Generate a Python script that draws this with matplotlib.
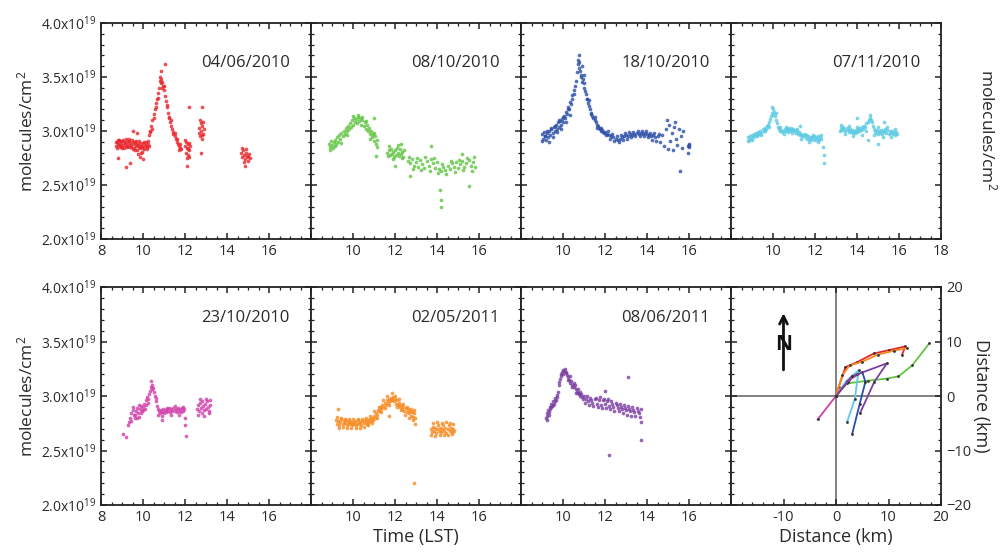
import matplotlib
matplotlib.use('Agg')
import matplotlib.pyplot as plt
from matplotlib.ticker import MultipleLocator

plt.rcParams['font.family'] = ['Open Sans', 'DejaVu Sans']
plt.rcParams['mathtext.default'] = 'regular'

# column density in units of 1e19 molecules/cm2, as (time LST, value)
d_040610 = [
    (8.70, 2.86), (8.75, 2.90), (8.80, 2.88), (8.85, 2.92), (8.90, 2.85), (8.95, 2.89), (9.00, 2.91), (9.05, 2.87),
    (9.10, 2.84), (9.15, 2.90), (9.20, 2.93), (9.25, 2.88), (9.30, 2.86), (9.35, 2.91), (9.40, 2.89), (9.45, 2.85),
    (9.50, 2.83), (9.55, 2.88), (9.60, 2.90), (9.65, 2.86), (9.70, 2.82), (9.75, 2.87), (9.80, 2.91), (9.85, 2.84),
    (9.90, 2.80), (9.95, 2.86), (10.00, 2.89), (10.05, 2.83), (10.10, 2.87), (10.15, 2.90), (10.20, 2.85), (10.25, 2.88),
    (8.72, 2.90), (8.77, 2.84), (8.82, 2.92), (8.87, 2.87), (8.92, 2.91), (8.97, 2.86), (9.02, 2.84), (9.07, 2.92),
    (9.12, 2.89), (9.17, 2.86), (9.22, 2.85), (9.27, 2.91), (9.32, 2.93), (9.37, 2.85), (9.42, 2.87), (9.47, 2.92),
    (9.52, 2.90), (9.57, 2.84), (9.62, 2.82), (9.67, 2.91), (9.72, 2.88), (9.77, 2.79), (9.82, 2.85), (9.87, 2.89),
    (9.92, 2.86), (9.97, 2.81), (10.02, 2.84), (10.07, 2.90), (10.12, 2.86), (10.17, 2.83), (10.22, 2.91), (10.27, 2.86),
    (9.20, 2.67), (9.40, 2.70), (8.80, 2.75), (9.70, 2.98), (10.00, 2.74), (9.50, 3.00), (9.85, 2.76),
    (10.30, 2.96), (10.35, 3.00), (10.40, 3.05), (10.45, 3.10), (10.50, 3.16), (10.55, 3.20), (10.60, 3.26), (10.65, 3.30),
    (10.70, 3.35), (10.75, 3.40), (10.80, 3.46), (10.85, 3.48), (10.90, 3.45), (10.95, 3.42), (11.00, 3.38), (11.05, 3.32),
    (11.10, 3.28), (11.15, 3.22), (11.20, 3.17), (11.25, 3.12), (11.30, 3.08), (11.35, 3.05), (11.40, 3.02), (11.45, 2.99),
    (11.50, 2.95), (11.55, 2.93), (11.60, 2.90), (11.65, 2.88), (11.70, 2.86), (11.75, 2.84), (11.80, 2.83),
    (10.32, 2.99), (10.42, 3.02), (10.52, 3.12), (10.62, 3.22), (10.72, 3.31), (10.82, 3.50), (10.87, 3.44), (10.92, 3.40),
    (11.02, 3.42), (11.12, 3.24), (11.22, 3.13), (11.32, 3.10), (11.42, 2.97), (11.52, 2.98), (11.62, 2.93), (11.72, 2.82),
    (11.78, 2.88), (10.88, 3.56), (11.05, 3.62),
    (12.00, 2.86), (12.03, 2.80), (12.06, 2.90), (12.09, 2.84), (12.12, 2.78), (12.15, 2.88), (12.18, 2.82), (12.21, 2.76),
    (12.24, 2.86), (12.02, 2.92), (12.08, 2.75), (12.14, 2.83), (12.20, 2.89), (12.20, 3.22), (12.10, 2.68),
    (12.65, 2.98), (12.68, 3.03), (12.71, 2.95), (12.74, 3.07), (12.77, 3.00), (12.80, 2.93), (12.83, 3.05), (12.86, 2.97),
    (12.89, 3.02), (12.70, 3.10), (12.79, 2.96), (12.88, 3.08), (12.80, 3.22), (12.75, 2.80),
    (14.65, 2.80), (14.70, 2.76), (14.75, 2.82), (14.80, 2.78), (14.85, 2.74), (14.90, 2.80), (14.95, 2.77), (15.00, 2.72),
    (15.05, 2.79), (15.10, 2.75), (14.72, 2.84), (14.82, 2.71), (14.92, 2.83), (15.02, 2.76), (14.88, 2.68),
]

d_081010 = [
    (8.85, 2.88), (8.90, 2.85), (8.95, 2.91), (9.00, 2.87), (9.05, 2.84), (9.10, 2.90), (9.15, 2.92), (9.20, 2.88),
    (9.25, 2.94), (9.30, 2.90), (9.35, 2.96), (9.40, 2.93), (9.45, 2.98), (9.50, 2.95), (9.55, 3.00), (9.60, 2.97),
    (9.65, 3.03), (9.70, 3.00), (9.75, 3.05), (9.80, 3.02), (9.85, 3.07), (9.90, 3.04), (9.95, 3.10), (10.00, 3.06),
    (10.05, 3.12), (10.10, 3.08), (10.15, 3.11), (10.20, 3.07), (10.25, 3.13), (10.30, 3.09), (10.35, 3.12), (10.40, 3.06),
    (10.45, 3.10), (10.50, 3.05), (10.55, 3.08), (10.60, 3.02), (10.65, 3.06), (10.70, 3.00), (10.75, 3.03), (10.80, 2.97),
    (10.85, 3.00), (10.90, 2.94), (10.95, 2.97), (11.00, 2.91), (11.05, 2.95), (11.10, 2.88), (11.15, 2.92),
    (8.92, 2.82), (9.12, 2.86), (9.42, 2.89), (9.72, 2.96), (10.02, 3.14), (10.22, 3.15), (10.42, 3.13), (10.62, 3.09),
    (10.82, 2.93), (11.02, 2.98), (11.12, 2.85), (11.10, 2.77), (11.00, 3.12),
    (11.60, 2.80), (11.65, 2.77), (11.70, 2.82), (11.75, 2.78), (11.80, 2.83), (11.85, 2.79), (11.90, 2.81), (11.95, 2.76),
    (12.00, 2.82), (12.05, 2.78), (12.10, 2.84), (12.15, 2.80), (12.20, 2.77), (12.25, 2.83), (12.30, 2.79), (12.35, 2.81),
    (12.40, 2.76), (12.45, 2.82), (11.72, 2.86), (11.92, 2.74), (12.12, 2.87), (12.32, 2.75), (12.00, 2.68), (12.30, 2.88),
    (12.60, 2.72), (12.70, 2.70), (12.80, 2.74), (12.90, 2.68), (13.00, 2.71), (13.10, 2.67), (13.20, 2.73), (13.30, 2.69),
    (13.40, 2.66), (13.50, 2.72), (13.60, 2.68), (13.70, 2.74), (13.80, 2.70), (13.90, 2.66), (14.00, 2.71), (14.10, 2.65),
    (14.20, 2.63), (14.30, 2.67), (14.40, 2.64), (14.50, 2.68), (14.60, 2.65), (14.70, 2.70), (14.80, 2.67), (14.90, 2.71),
    (15.00, 2.66), (15.10, 2.69), (15.20, 2.72), (15.30, 2.67), (15.40, 2.70), (15.50, 2.73), (15.60, 2.68), (15.70, 2.71),
    (15.80, 2.67),
    (12.65, 2.76), (12.85, 2.65), (13.05, 2.75), (13.25, 2.64), (13.45, 2.76), (13.65, 2.63), (13.85, 2.75), (14.05, 2.61),
    (14.25, 2.69), (14.45, 2.60), (14.65, 2.72), (14.85, 2.62), (15.05, 2.73), (15.25, 2.64), (15.45, 2.75), (15.65, 2.63),
    (15.75, 2.76), (14.20, 2.30), (14.20, 2.36), (14.15, 2.45), (12.70, 2.58), (15.50, 2.49), (15.20, 2.79), (13.70, 2.86),
]

d_181010 = [
    (9.00, 2.97), (9.05, 2.93), (9.10, 2.99), (9.15, 2.95), (9.20, 2.92), (9.25, 2.98), (9.30, 2.94), (9.35, 3.00),
    (9.40, 2.96), (9.45, 3.02), (9.50, 2.98), (9.55, 3.04), (9.60, 3.00), (9.65, 3.06), (9.70, 3.02), (9.75, 3.08),
    (9.80, 3.04), (9.85, 3.09), (9.90, 3.06), (9.95, 3.11), (10.00, 3.08), (10.05, 3.14), (10.10, 3.12), (10.15, 3.18),
    (10.20, 3.16), (10.25, 3.22), (10.30, 3.20), (10.35, 3.27), (10.40, 3.25), (10.45, 3.33), (10.50, 3.34), (10.55, 3.42),
    (10.60, 3.46), (10.65, 3.55), (10.70, 3.62), (10.75, 3.70), (10.78, 3.64), (10.82, 3.56), (10.85, 3.50), (10.90, 3.45),
    (10.95, 3.48), (11.00, 3.40), (11.05, 3.37), (11.10, 3.34), (11.15, 3.30), (11.20, 3.26), (11.25, 3.23), (11.30, 3.20),
    (11.35, 3.17), (11.40, 3.14), (11.45, 3.12), (11.50, 3.10), (11.55, 3.08), (11.60, 3.06), (11.65, 3.05), (11.70, 3.03),
    (11.75, 3.02), (11.80, 3.00), (11.85, 3.01), (11.90, 2.99), (11.95, 2.98), (12.00, 2.99), (12.10, 2.97), (12.20, 2.96),
    (12.30, 2.95), (12.40, 2.94), (12.50, 2.93), (12.60, 2.92), (12.70, 2.93), (12.80, 2.94), (12.90, 2.95), (13.00, 2.96),
    (13.10, 2.95), (13.20, 2.97), (13.30, 2.96), (13.40, 2.97), (13.50, 2.98), (13.60, 2.97), (13.70, 2.98), (13.80, 2.97),
    (13.90, 2.98), (14.00, 2.97), (14.10, 2.96), (14.20, 2.95), (14.30, 2.96), (14.40, 2.94), (14.50, 2.95),
    (9.02, 2.91), (9.12, 2.95), (9.22, 3.00), (9.32, 2.90), (9.42, 3.03), (9.52, 2.94), (9.62, 3.05), (9.72, 2.99),
    (9.82, 3.10), (9.92, 3.02), (10.02, 3.13), (10.12, 3.08), (10.22, 3.20), (10.32, 3.15), (10.42, 3.30), (10.52, 3.38),
    (10.72, 3.66), (10.74, 3.58), (10.88, 3.52), (11.02, 3.44), (11.12, 3.30), (11.22, 3.29), (11.32, 3.16), (11.52, 3.13),
    (11.62, 3.03), (11.82, 3.03), (12.05, 2.96), (12.15, 3.00), (12.25, 2.93), (12.35, 2.97), (12.45, 2.91), (12.55, 2.95),
    (12.65, 2.90), (12.75, 2.96), (12.85, 2.92), (12.95, 2.98), (13.05, 2.93), (13.15, 2.99), (13.25, 2.94), (13.35, 2.99),
    (13.45, 2.95), (13.55, 3.00), (13.65, 2.95), (13.75, 3.00), (13.85, 2.95), (13.95, 3.00), (14.05, 2.94), (14.15, 2.98),
    (14.25, 2.92), (14.35, 2.98), (14.45, 2.91), (14.55, 2.97), (10.90, 3.60), (11.00, 3.52),
    (14.60, 2.90), (14.70, 2.96), (14.80, 2.86), (14.90, 3.02), (15.00, 2.83), (15.05, 3.06), (15.10, 2.91), (15.20, 2.98),
    (15.25, 2.82), (15.30, 3.04), (15.40, 2.93), (15.45, 2.87), (15.50, 3.02), (15.55, 2.63), (15.60, 2.95), (15.65, 2.84),
    (15.70, 3.00), (15.95, 2.86), (15.98, 2.88), (16.00, 2.85), (16.02, 2.87), (15.97, 2.80), (14.95, 3.10), (15.35, 3.08),
]

d_071110 = [
    (8.80, 2.94), (8.85, 2.92), (8.90, 2.95), (8.95, 2.93), (9.00, 2.96), (9.05, 2.94), (9.10, 2.97), (9.15, 2.95),
    (9.20, 2.98), (9.25, 2.96), (9.30, 2.99), (9.35, 2.97), (9.40, 3.00), (9.45, 2.98), (9.50, 3.02), (9.55, 3.00),
    (9.60, 3.03), (9.65, 3.02), (9.70, 3.05), (9.75, 3.06), (9.80, 3.08), (9.85, 3.11), (9.90, 3.14), (9.95, 3.17),
    (10.00, 3.20), (10.05, 3.18), (10.10, 3.14), (10.15, 3.10), (10.20, 3.07), (10.25, 3.04), (10.30, 3.02), (10.35, 3.00),
    (10.40, 3.01), (10.45, 2.99), (10.50, 3.00), (10.55, 3.02), (10.60, 3.00), (10.65, 3.01), (10.70, 2.99), (10.75, 3.02),
    (10.80, 3.00), (10.85, 3.03), (10.90, 3.01), (10.95, 3.02), (11.00, 3.00), (11.05, 3.01), (11.10, 2.98), (11.15, 3.00),
    (11.20, 2.97), (11.25, 2.99), (11.30, 2.96), (11.35, 2.97), (11.40, 2.95), (11.45, 2.96), (11.50, 2.94), (11.55, 2.96),
    (11.60, 2.93), (11.65, 2.95), (11.70, 2.93), (11.75, 2.94), (11.80, 2.92), (11.85, 2.94), (11.90, 2.93), (11.95, 2.95),
    (12.00, 2.92), (12.05, 2.94), (12.10, 2.93), (12.15, 2.95), (12.20, 2.92), (12.25, 2.94), (12.30, 2.93),
    (8.82, 2.91), (9.02, 2.92), (9.22, 2.95), (9.42, 2.96), (9.62, 3.00), (9.82, 3.04), (9.97, 3.22), (10.02, 3.15),
    (10.12, 3.17), (10.32, 3.04), (10.52, 2.97), (10.72, 3.03), (10.92, 2.98), (11.12, 3.02), (11.32, 2.93), (11.52, 2.97),
    (11.72, 2.90), (11.92, 2.96), (12.12, 2.90), (12.27, 2.96), (12.40, 2.85), (12.42, 2.78), (12.45, 2.70), (11.30, 3.05),
    (10.60, 3.04),
    (13.20, 3.00), (13.25, 3.03), (13.30, 3.01), (13.35, 3.04), (13.40, 3.02), (13.45, 3.00), (13.50, 3.03), (13.55, 3.01),
    (13.60, 2.99), (13.65, 3.02), (13.70, 2.99), (13.75, 3.01), (13.80, 2.98), (13.85, 3.00), (13.90, 2.98), (13.95, 3.01),
    (14.00, 2.99), (14.05, 3.02), (14.10, 3.00), (14.15, 3.03), (14.20, 3.01), (14.25, 3.04), (14.30, 3.02), (14.35, 3.05),
    (14.40, 3.04), (14.45, 3.07), (14.50, 3.08), (14.55, 3.10), (14.60, 3.12), (14.65, 3.10), (14.70, 3.08), (14.75, 3.05),
    (14.80, 3.02), (14.85, 3.00), (14.90, 2.98), (14.95, 3.01), (15.00, 2.97), (15.05, 3.00), (15.10, 2.98), (15.15, 3.01),
    (15.20, 2.97), (15.25, 3.00), (15.30, 2.99), (15.35, 3.02), (15.40, 2.98), (15.45, 3.01), (15.50, 2.97), (15.55, 3.00),
    (15.60, 2.98), (15.65, 3.00), (15.70, 2.97), (15.75, 2.99), (15.80, 2.96), (15.85, 2.99), (15.90, 2.97),
    (13.22, 3.06), (13.42, 2.97), (13.62, 3.05), (13.82, 2.95), (14.02, 3.04), (14.22, 2.96), (14.42, 3.00), (14.62, 3.15),
    (14.82, 2.96), (15.02, 3.04), (15.22, 2.94), (15.42, 3.04), (15.62, 2.94), (15.82, 3.02), (14.00, 3.12), (15.00, 2.88),
    (15.30, 3.08), (14.50, 2.92),
]

d_231010 = [
    (9.05, 2.65), (9.20, 2.62), (9.30, 2.73), (9.35, 2.76), (9.40, 2.80), (9.45, 2.84), (9.50, 2.87), (9.55, 2.83),
    (9.60, 2.80), (9.65, 2.86), (9.70, 2.89), (9.75, 2.84), (9.80, 2.81), (9.85, 2.88), (9.90, 2.91), (9.95, 2.86),
    (10.00, 2.90), (10.05, 2.93), (10.10, 2.88), (10.15, 2.96), (10.20, 2.99), (10.25, 2.97), (10.30, 3.02), (10.35, 3.05),
    (10.40, 3.08), (10.45, 3.06), (10.50, 3.04), (10.55, 3.00), (10.60, 2.95), (10.65, 2.91), (10.70, 2.88), (10.75, 2.86),
    (10.80, 2.84), (10.85, 2.87), (10.90, 2.85), (10.95, 2.88), (11.00, 2.84), (11.05, 2.87), (11.10, 2.85), (11.15, 2.88),
    (11.20, 2.86), (11.25, 2.89), (11.30, 2.85), (11.35, 2.88), (11.40, 2.86), (11.45, 2.89), (11.50, 2.86), (11.55, 2.88),
    (11.60, 2.85), (11.65, 2.89), (11.70, 2.86), (11.75, 2.88), (11.80, 2.85), (11.85, 2.89), (11.90, 2.86), (11.95, 2.88),
    (9.42, 2.77), (9.52, 2.90), (9.62, 2.83), (9.72, 2.80), (9.82, 2.92), (9.92, 2.84), (10.02, 2.87), (10.12, 2.92),
    (10.22, 2.94), (10.38, 3.14), (10.42, 3.10), (10.48, 3.07), (10.62, 2.98), (10.72, 2.83), (10.92, 2.82), (11.12, 2.89),
    (11.32, 2.83), (11.52, 2.91), (11.72, 2.83), (11.92, 2.90), (12.05, 2.63), (12.02, 2.73), (12.00, 2.80), (10.90, 2.78),
    (12.55, 2.88), (12.60, 2.92), (12.65, 2.86), (12.70, 2.94), (12.75, 2.89), (12.80, 2.84), (12.85, 2.91), (12.90, 2.87),
    (12.95, 2.93), (13.00, 2.88), (13.05, 2.95), (13.10, 2.90), (13.15, 2.86), (13.20, 2.92), (12.62, 2.83), (12.72, 2.97),
    (12.82, 2.95), (12.92, 2.82), (13.02, 2.97), (13.12, 2.84), (13.18, 2.96),
]

d_020511 = [
    (9.20, 2.78), (9.25, 2.74), (9.30, 2.77), (9.35, 2.73), (9.40, 2.76), (9.45, 2.79), (9.50, 2.74), (9.55, 2.77),
    (9.60, 2.75), (9.65, 2.78), (9.70, 2.73), (9.75, 2.76), (9.80, 2.74), (9.85, 2.77), (9.90, 2.75), (9.95, 2.73),
    (10.00, 2.76), (10.05, 2.74), (10.10, 2.77), (10.15, 2.73), (10.20, 2.75), (10.25, 2.78), (10.30, 2.74), (10.35, 2.76),
    (10.40, 2.73), (10.45, 2.77), (10.50, 2.75), (10.55, 2.78), (10.60, 2.76), (10.65, 2.74), (10.70, 2.78), (10.75, 2.76),
    (10.80, 2.79), (10.85, 2.77), (10.90, 2.80), (10.95, 2.78), (11.00, 2.82), (11.05, 2.80), (11.10, 2.84), (11.15, 2.83),
    (11.20, 2.87), (11.25, 2.86), (11.30, 2.90), (11.35, 2.88), (11.40, 2.92), (11.45, 2.90), (11.50, 2.94), (11.55, 2.92),
    (11.60, 2.96), (11.65, 2.94), (11.70, 2.97), (11.75, 2.95), (11.80, 2.98), (11.85, 2.96), (11.90, 2.99), (11.95, 2.95),
    (12.00, 2.97), (12.05, 2.93), (12.10, 2.96), (12.15, 2.92), (12.20, 2.94), (12.25, 2.90), (12.30, 2.92), (12.35, 2.88),
    (12.40, 2.90), (12.45, 2.86), (12.50, 2.89), (12.55, 2.85), (12.60, 2.88), (12.65, 2.84), (12.70, 2.86), (12.75, 2.82),
    (12.80, 2.85), (12.85, 2.81), (12.90, 2.84), (12.95, 2.80),
    (9.22, 2.81), (9.32, 2.71), (9.42, 2.80), (9.52, 2.72), (9.62, 2.79), (9.72, 2.71), (9.82, 2.79), (9.92, 2.71),
    (10.02, 2.79), (10.12, 2.71), (10.22, 2.79), (10.32, 2.71), (10.42, 2.79), (10.52, 2.72), (10.62, 2.80), (10.72, 2.73),
    (10.82, 2.82), (10.92, 2.75), (11.02, 2.86), (11.12, 2.80), (11.22, 2.90), (11.32, 2.85), (11.42, 2.96), (11.52, 2.89),
    (11.62, 3.00), (11.72, 2.92), (11.88, 3.03), (11.98, 3.00), (12.08, 2.90), (12.18, 2.97), (12.28, 2.87), (12.38, 2.93),
    (12.48, 2.83), (12.58, 2.90), (12.68, 2.80), (12.78, 2.88), (12.88, 2.78), (12.92, 2.87), (9.30, 2.88), (12.90, 2.20),
    (12.95, 2.74), (11.70, 2.82),
    (13.70, 2.70), (13.75, 2.67), (13.80, 2.72), (13.85, 2.68), (13.90, 2.71), (13.95, 2.66), (14.00, 2.70), (14.05, 2.73),
    (14.10, 2.68), (14.15, 2.71), (14.20, 2.67), (14.25, 2.70), (14.30, 2.73), (14.35, 2.68), (14.40, 2.71), (14.45, 2.66),
    (14.50, 2.70), (14.55, 2.73), (14.60, 2.68), (14.65, 2.71), (14.70, 2.67), (14.75, 2.70), (14.80, 2.68),
    (13.72, 2.64), (13.82, 2.75), (13.92, 2.63), (14.02, 2.76), (14.12, 2.64), (14.22, 2.75), (14.32, 2.64), (14.42, 2.76),
    (14.52, 2.64), (14.62, 2.75), (14.72, 2.65), (14.78, 2.74),
]

d_080611 = [
    (9.20, 2.80), (9.23, 2.84), (9.26, 2.82), (9.30, 2.87), (9.33, 2.85), (9.36, 2.90), (9.40, 2.88), (9.43, 2.93),
    (9.46, 2.91), (9.50, 2.95), (9.55, 2.93), (9.60, 2.98), (9.65, 2.96), (9.70, 3.01), (9.75, 3.04), (9.80, 3.10),
    (9.85, 3.16), (9.90, 3.20), (9.95, 3.22), (10.00, 3.24), (10.05, 3.23), (10.10, 3.25), (10.15, 3.22), (10.20, 3.19),
    (10.25, 3.17), (10.30, 3.15), (10.35, 3.12), (10.40, 3.14), (10.45, 3.10), (10.50, 3.08), (10.55, 3.10), (10.60, 3.06),
    (10.65, 3.04), (10.70, 3.06), (10.75, 3.02), (10.80, 3.00), (10.85, 3.02), (10.90, 2.99), (10.95, 2.97), (11.00, 3.00),
    (11.10, 2.97), (11.20, 2.95), (11.30, 2.98), (11.40, 2.94), (11.50, 2.97), (11.60, 2.93), (11.70, 2.96), (11.80, 2.92),
    (11.90, 2.96), (12.00, 2.93), (12.10, 2.95), (12.20, 2.91), (12.30, 2.95), (12.40, 2.90), (12.50, 2.94), (12.60, 2.89),
    (12.70, 2.93), (12.80, 2.88), (12.90, 2.92), (13.00, 2.87), (13.10, 2.91), (13.20, 2.86), (13.30, 2.90), (13.40, 2.85),
    (13.50, 2.89), (13.60, 2.84), (13.70, 2.88),
    (9.22, 2.78), (9.32, 2.83), (9.42, 2.90), (9.52, 2.92), (9.62, 2.95), (9.72, 2.99), (9.82, 3.13), (9.92, 3.18),
    (10.02, 3.20), (10.12, 3.21), (10.22, 3.15), (10.32, 3.18), (10.42, 3.08), (10.52, 3.12), (10.62, 3.03), (10.72, 3.03),
    (10.82, 3.04), (11.05, 2.94), (11.15, 3.00), (11.25, 2.92), (11.35, 2.96), (11.45, 2.91), (11.55, 2.98), (11.65, 2.90),
    (11.75, 2.99), (11.85, 2.89), (11.95, 2.97), (12.05, 2.89), (12.15, 2.97), (12.25, 2.88), (12.35, 2.93), (12.45, 2.86),
    (12.55, 2.92), (12.65, 2.86), (12.75, 2.90), (12.85, 2.84), (12.95, 2.89), (13.05, 2.83), (13.15, 2.88), (13.25, 2.82),
    (13.35, 2.87), (13.45, 2.82), (13.55, 2.86), (13.65, 2.81), (12.20, 2.46), (13.70, 2.60), (13.70, 2.76), (13.10, 3.17),
    (12.00, 3.05),
]

dates = ['04/06/2010', '08/10/2010', '18/10/2010', '07/11/2010', '23/10/2010', '02/05/2011', '08/06/2011']
colors = ['#e8262b', '#62c443', '#2b4ea6', '#5ccae3', '#d13fa9', '#f7891f', '#7b3fa1']
series = [d_040610, d_081010, d_181010, d_071110, d_231010, d_020511, d_080611]

# plume trajectories (east km, north km)
traj_red = [(0, 0), (0.5, 1.6), (1.8, 5.3), (4.0, 6.2), (7.2, 7.8), (10.0, 8.4), (13.2, 9.1), (12.6, 7.6)]
traj_orange = [(0, 0), (1.2, 3.8), (2.6, 5.6), (5.0, 6.3), (8.0, 7.6), (11.0, 8.3), (13.6, 8.8)]
traj_green = [(0, 0), (2.1, 2.3), (6.0, 2.8), (9.7, 3.2), (11.9, 3.6), (14.5, 5.6), (17.8, 9.7)]
traj_blue = [(0, 0), (2.5, 3.0), (5.0, 4.4), (5.6, 2.6), (4.5, -1.5), (3.1, -6.9)]
traj_cyan = [(0, 0), (2.0, 2.8), (4.3, 4.7), (3.6, -0.5), (2.1, -4.8)]
traj_purple = [(0, 0), (3.0, 3.6), (9.7, 6.0), (7.3, 2.6), (4.6, -3.1)]
traj_magenta = [(-3.5, -4.3), (0, 0), (2.2, 2.6), (4.0, 4.0)]
trajectories = [traj_red, traj_green, traj_blue, traj_cyan, traj_magenta, traj_orange, traj_purple]

fig = plt.figure(figsize=(10.01, 5.57), dpi=100)
W, H = 1001.0, 557.0
lefts = [101, 311, 521, 731]
pw = 210
rows = [(23, 216), (287, 218)]

ytick_vals = [2.0, 2.5, 3.0, 3.5, 4.0]
ytick_lab = [r'%.1fx10$^{19}$' % v for v in ytick_vals]


def style_box(ax):
    for s in ax.spines.values():
        s.set_linewidth(1.3)
        s.set_color('#222222')
    ax.tick_params(which='both', direction='in', top=True, right=True, colors='#222222',
                   labelcolor='#2a2a2a', labelsize=10.5)
    ax.tick_params(which='major', length=4, width=1.1)
    ax.tick_params(which='minor', length=2, width=0.9)


axes = []
for i in range(8):
    r, c = divmod(i, 4)
    top, h = rows[r]
    ax = fig.add_axes([lefts[c] / W, 1 - (top + h) / H, pw / W, h / H])
    style_box(ax)
    axes.append(ax)

for i, ax in enumerate(axes[:7]):
    r, c = divmod(i, 4)
    t = [p[0] for p in series[i]]
    v = [p[1] for p in series[i]]
    ax.scatter(t, v, s=7, color=colors[i], linewidths=0, alpha=0.8)
    ax.set_xlim(8, 18)
    ax.set_ylim(2.0, 4.0)
    ax.xaxis.set_minor_locator(MultipleLocator(0.5))
    ax.yaxis.set_minor_locator(MultipleLocator(0.1))
    xt = [8, 10, 12, 14, 16, 18]
    ax.set_xticks(xt)
    if c == 0:
        labs = ['8', '10', '12', '14', '16', '']
    elif c == 3:
        labs = ['', '10', '12', '14', '16', '18']
    else:
        labs = ['', '10', '12', '14', '16', '']
    ax.set_xticklabels(labs)
    ax.set_yticks(ytick_vals)
    if c == 0:
        ax.set_yticklabels(ytick_lab, fontsize=10)
        ax.set_ylabel('molecules/cm$^2$', fontsize=12.5, color='#2a2a2a', labelpad=3)
    else:
        ax.set_yticklabels([])
    ty = 0.815 if r == 0 else 0.86
    ax.text(0.9, ty, dates[i], transform=ax.transAxes, ha='right', va='center',
            fontsize=12, color='#2a2a2a')

# trajectory panel
ax = axes[7]
ax.set_xlim(-20, 20)
ax.set_ylim(-20, 20)
ax.axhline(0, color='#777777', lw=1.3, zorder=1)
ax.axvline(0, color='#777777', lw=1.3, zorder=1)
for tr, col in zip(trajectories, colors):
    x = [p[0] for p in tr]
    y = [p[1] for p in tr]
    ax.plot(x, y, color=col, lw=1.3, marker='o', ms=2, mfc='#333333', mec='none', zorder=3)
ax.set_xticks([-20, -10, 0, 10, 20])
ax.set_xticklabels(['', '-10', '0', '10', '20'])
ax.set_yticks([-20, -10, 0, 10, 20])
ax.xaxis.set_minor_locator(MultipleLocator(2))
ax.yaxis.set_minor_locator(MultipleLocator(2))
ax.tick_params(labelleft=False, labelright=True)
ax.yaxis.set_label_position('right')
ax.set_ylabel('Distance (km)', fontsize=13, rotation=270, labelpad=14, color='#2a2a2a')
ax.set_xlabel('Distance (km)', fontsize=13, color='#2a2a2a', labelpad=2)
ax.annotate('', xy=(-10, 15.2), xytext=(-10, 4.8),
            arrowprops=dict(arrowstyle='->', lw=2, color='#111111', mutation_scale=14,
                            shrinkA=0, shrinkB=0))
ax.text(-10, 9.5, 'N', ha='center', va='center', fontsize=15, fontweight='bold', color='#111111')

axes[5].set_xlabel('Time (LST)', fontsize=13, color='#2a2a2a', labelpad=2)
fig.text(988 / W, 1 - 130 / H, 'molecules/cm$^2$', rotation=270, ha='center', va='center',
         fontsize=12.5, color='#2a2a2a')

fig.savefig('out.png', dpi=100)
